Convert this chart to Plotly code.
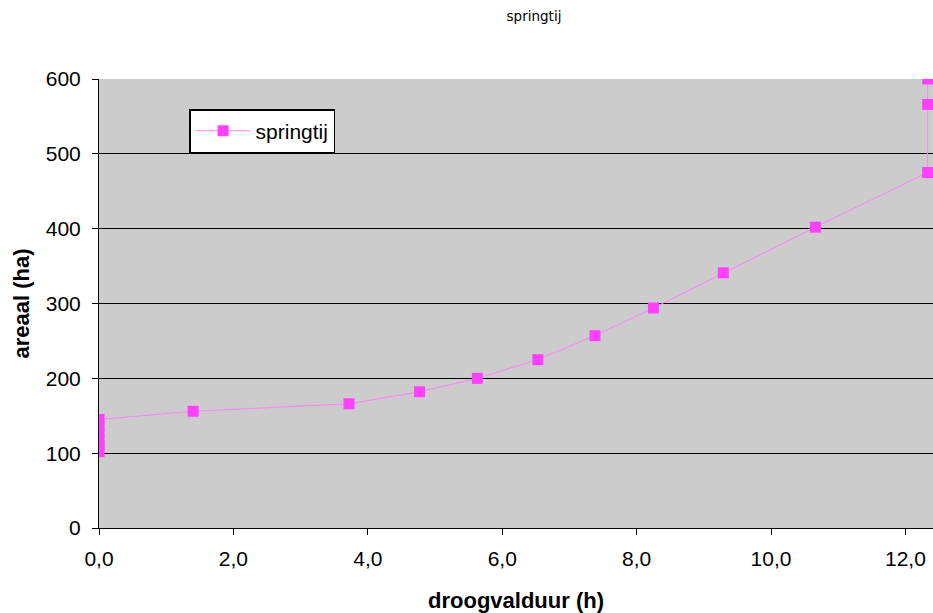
import plotly.graph_objects as go

duur = [0.0, 0.0, 0.0, 0.0, 0.0, 0.0, 1.40, 3.72, 4.77, 5.63, 6.53, 7.38, 8.25, 9.29, 10.66, 12.33, 12.33, 12.33]
areaal = [102, 110, 118, 127, 136, 145, 156, 166, 182, 200, 225, 257, 294, 341, 402, 475, 566, 600]

x_ticks = [0, 2, 4, 6, 8, 10, 12]
x_labels = ["0,0", "2,0", "4,0", "6,0", "8,0", "10,0", "12,0"]
y_ticks = [0, 100, 200, 300, 400, 500, 600]

fig = go.Figure()
fig.add_trace(go.Scatter(
    x=duur, y=areaal, mode="lines+markers", name="springtij",
    line=dict(color="#FF80FF", width=1),
    marker=dict(symbol="square", size=11, color="#FF40FF", line=dict(width=0)),
))

fig.update_layout(
    width=933, height=613,
    margin=dict(l=99, r=0, t=79, b=85),
    paper_bgcolor="white", plot_bgcolor="#CCCCCC",
    font=dict(family="Liberation Sans, Arial", size=21, color="black"),
    title=dict(text="springtij", x=534 / 933, xanchor="center",
               y=1 - 16 / 613, yanchor="middle",
               font=dict(family="DejaVu Sans", size=13.5, color="black")),
    showlegend=True,
    legend=dict(x=0.108, y=0.933, xanchor="left", yanchor="top",
                bgcolor="white", bordercolor="black", borderwidth=1.5,
                itemwidth=55, font=dict(size=21)),
    xaxis=dict(range=[0, 12.41], tickvals=x_ticks, ticktext=x_labels,
               showgrid=False, zeroline=False, showline=True, linecolor="black", linewidth=1,
               ticks="outside", ticklen=6, tickcolor="black", ticklabelstandoff=6,
               title=dict(text="<b>droogvalduur (h)</b>", font=dict(size=22), standoff=24)),
    yaxis=dict(range=[0, 600], tickvals=y_ticks,
               showgrid=True, gridcolor="black", gridwidth=1, zeroline=False,
               showline=True, linecolor="black", linewidth=1,
               ticks="outside", ticklen=6, tickcolor="black", ticklabelstandoff=7,
               title=dict(text="<b>areaal (ha)</b>", font=dict(size=22), standoff=10)),
)

fig.write_html(
    "out.html",
    config={"displayModeBar": False},
    post_script="document.body.style.margin='0px';document.documentElement.style.overflow='hidden';",
)
